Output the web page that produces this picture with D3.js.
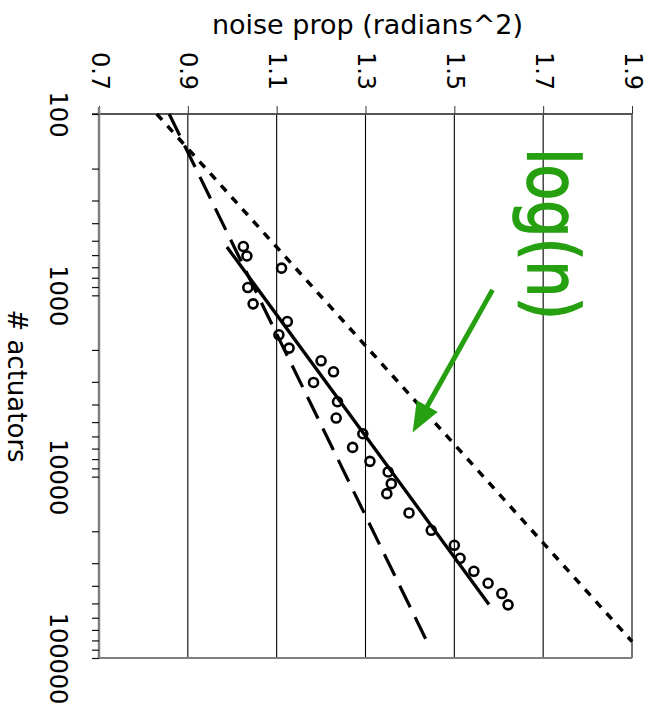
<!DOCTYPE html>
<html>
<head>
<meta charset="utf-8">
<script src="https://cdn.jsdelivr.net/npm/d3@7"></script>
<style>
  html, body { margin: 0; padding: 0; background: #fff; }
  svg { display: block; font-family: "DejaVu Sans", Verdana, sans-serif; }
</style>
</head>
<body>
<svg id="chart" width="655" height="711"></svg>
<script>
// ---- data ----
const noiseTicks = [0.7, 0.9, 1.1, 1.3, 1.5, 1.7, 1.9];
const actuatorMajorTicks = [100, 1000, 10000, 100000];
const actuatorMinorTicks = [200,300,400,500,600,700,800,900,
  2000,3000,4000,5000,6000,7000,8000,9000,
  20000,30000,40000,50000,60000,70000,80000,90000];

// measured points (circles)
const nActuators = [538,607,708,906,1114,1395,1651,1954,2296,2640,3022,3863,4750,5797,6896,8235,9420,10930,12410,15850,19760,23900,28190,33250,38710,44120,50920];
const noiseMeasured = [1.025,1.033,1.111,1.035,1.047,1.124,1.105,1.128,1.200,1.228,1.183,1.237,1.234,1.294,1.271,1.310,1.351,1.358,1.348,1.398,1.448,1.500,1.513,1.544,1.576,1.607,1.621];

// fit line (solid)
const fitN = [541, 50700];
const fitNoise = [0.988, 1.578];
// long-dash line
const dashN = [100, 87500];
const dashNoise = [0.858, 1.445];
// dotted line (log(n))
const dotN = [100, 81100];
const dotNoise = [0.830, 1.900];

// annotation
const arrowN = [933, 5700];
const arrowNoise = [1.586, 1.406];
const annoText = "log(n)";
const annoN = 460;
const annoNoise = 1.666;

// ---- layout ----
const svg = d3.select("#chart");
const pL = 99, pR = 632, pT = 114, pB = 658;
const x = d3.scaleLinear().domain([0.7, 1.9]).range([pL, pR]);
const y = d3.scaleLog().domain([100, 100000]).range([pT, pB]);
const green = "#26a010";

// gridlines
svg.append("g").selectAll("line").data(noiseTicks.slice(1)).join("line")
  .attr("x1", d => x(d)).attr("x2", d => x(d))
  .attr("y1", pT).attr("y2", pB)
  .attr("stroke", "#000").attr("stroke-width", 1.1);

// bottom border
svg.append("line").attr("x1", pL).attr("x2", pR).attr("y1", pB).attr("y2", pB)
  .attr("stroke", "#808080").attr("stroke-width", 2);

// top axis
const topAxis = svg.append("g").attr("transform", `translate(0,${pT})`)
  .call(d3.axisTop(x).tickValues(noiseTicks).tickSize(8).tickSizeOuter(0).tickFormat(d3.format(".1f")));
topAxis.select(".domain").attr("stroke", "#555").attr("stroke-width", 2).attr("d", `M${pL-7},0H${pR}`);
topAxis.selectAll(".tick line").attr("stroke", "#333").attr("stroke-width", 1);
topAxis.selectAll(".tick text")
  .attr("x", 0).attr("y", 0).attr("dy", null)
  .attr("text-anchor", "middle")
  .attr("transform", "translate(-8,-43) rotate(90)")
  .attr("font-size", 24).attr("font-family", "DejaVu Sans").attr("fill", "#000");

// left axis
const allActTicks = actuatorMajorTicks.concat(actuatorMinorTicks).sort((a,b)=>a-b);
const leftAxis = svg.append("g").attr("transform", `translate(${pL},0)`)
  .call(d3.axisLeft(y).tickValues(allActTicks).tickSize(7).tickSizeOuter(0)
    .tickFormat(d => actuatorMajorTicks.includes(d) ? String(d) : ""));
leftAxis.select(".domain").attr("stroke", "#808080").attr("stroke-width", 2.5).attr("d", `M0,${pT-7}V${pB+1}`);
leftAxis.selectAll(".tick line").attr("stroke", "#111").attr("stroke-width", 1.2);
leftAxis.selectAll(".tick text")
  .attr("x", 0).attr("y", 0).attr("dy", null)
  .attr("text-anchor", "middle")
  .attr("transform", "translate(-49,0) rotate(90)")
  .attr("font-size", 24).attr("font-family", "DejaVu Sans").attr("fill", "#000");

// axis titles
svg.append("text").attr("x", (pL + pR) / 2 + 2).attr("y", 34)
  .attr("text-anchor", "middle").attr("font-size", 27).text("noise prop (radians^2)");
svg.append("text").attr("transform", `translate(8,${(pT + pB) / 2}) rotate(90)`)
  .attr("text-anchor", "middle").attr("font-size", 26).text("# actuators");

// lines
const line = d3.line().x(d => x(d[1])).y(d => y(d[0]));
svg.append("path").datum(d3.zip(dotN, dotNoise)).attr("d", line)
  .attr("fill", "none").attr("stroke", "#000").attr("stroke-width", 3.5).attr("stroke-dasharray", "8,8");
svg.append("path").datum(d3.zip(dashN, dashNoise)).attr("d", line)
  .attr("fill", "none").attr("stroke", "#000").attr("stroke-width", 3.2).attr("stroke-dasharray", "24,11");
svg.append("path").datum(d3.zip(fitN, fitNoise)).attr("d", line)
  .attr("fill", "none").attr("stroke", "#000").attr("stroke-width", 3.3);

// points
svg.append("g").selectAll("circle").data(d3.zip(nActuators, noiseMeasured)).join("circle")
  .attr("cx", d => x(d[1])).attr("cy", d => y(d[0])).attr("r", 4.5)
  .attr("fill", "none").attr("stroke", "#000").attr("stroke-width", 2.6);

// annotation arrow
const ax0 = x(arrowNoise[0]), ay0 = y(arrowN[0]), ax1 = x(arrowNoise[1]), ay1 = y(arrowN[1]);
const len = Math.hypot(ax1 - ax0, ay1 - ay0);
const ux = (ax1 - ax0) / len, uy = (ay1 - ay0) / len;
const headL = 30, headW = 12;
const bx = ax1 - ux * headL, by = ay1 - uy * headL;
svg.append("line").attr("x1", ax0).attr("y1", ay0).attr("x2", bx + ux * 4).attr("y2", by + uy * 4)
  .attr("stroke", green).attr("stroke-width", 5);
svg.append("path")
  .attr("d", `M${ax1},${ay1}L${bx - uy * headW},${by + ux * headW}L${bx + uy * headW},${by - ux * headW}Z`)
  .attr("fill", green);

// annotation text
svg.append("text")
  .attr("transform", `translate(${x(annoNoise)},${y(annoN)}) rotate(90)`)
  .attr("text-anchor", "middle").attr("font-size", 71).attr("fill", green)
  .attr("stroke", green).attr("stroke-width", 1.6)
  .attr("textLength", 172).attr("lengthAdjust", "spacingAndGlyphs")
  .text(annoText);
</script>
</body>
</html>
